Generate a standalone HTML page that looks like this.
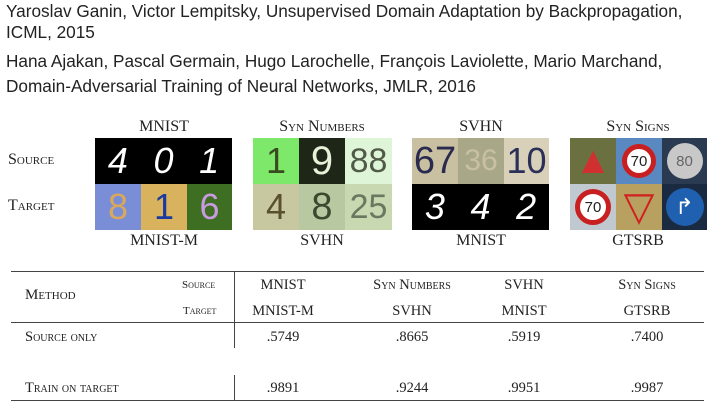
<!DOCTYPE html>
<html><head><style>
body{margin:0;width:713px;height:412px;background:#fff;position:relative;overflow:hidden;font-family:"Liberation Serif",serif;color:#222}
.a{position:absolute;white-space:nowrap}
.t{font-family:"Liberation Sans",sans-serif;font-size:17.2px;color:#222;left:6px}
.c{transform:translateX(-50%)}
.sc{font-variant:small-caps}
.b{position:absolute;overflow:hidden;display:flex;align-items:center;justify-content:center;font-family:"Liberation Sans",sans-serif}
.h{font-size:16px}
.n{font-size:14.5px}
</style></head><body>
<div class="a t" style="top:1px">Yaroslav Ganin, Victor Lempitsky, Unsupervised Domain Adaptation by Backpropagation,</div>
<div class="a t" style="top:22px">ICML, 2015</div>
<div class="a t" style="top:51px">Hana Ajakan, Pascal Germain, Hugo Larochelle, François Laviolette, Mario Marchand,</div>
<div class="a t" style="top:76px">Domain-Adversarial Training of Neural Networks, JMLR, 2016</div>

<div class="a c h" style="left:164px;top:118px">MNIST</div>
<div class="a c h sc" style="left:322px;top:118px">Syn Numbers</div>
<div class="a c h" style="left:481px;top:118px">SVHN</div>
<div class="a c h sc" style="left:638px;top:118px">Syn Signs</div>
<div class="a h sc" style="left:8px;top:151px">Source</div>
<div class="a h sc" style="left:8px;top:197px">Target</div>
<div class="a c h" style="left:164px;top:232px">MNIST-M</div>
<div class="a c h" style="left:322px;top:232px">SVHN</div>
<div class="a c h" style="left:481px;top:232px">MNIST</div>
<div class="a c h" style="left:638px;top:232px">GTSRB</div>

<div class="b" style="left:95px;top:138px;width:137px;height:46px;background:#000;color:#fff;font-size:36px;justify-content:space-around;font-style:italic">4<span>0</span><span>1</span></div>
<div class="b" style="left:95px;top:184px;width:46px;height:46px;background:#7a8ed8;color:#d9a85a;font-size:36px">8</div>
<div class="b" style="left:141px;top:184px;width:46px;height:46px;background:#d9b25e;color:#1a3aa0;font-size:36px">1</div>
<div class="b" style="left:187px;top:184px;width:45px;height:46px;background:#3d6e22;color:#c89ae0;font-size:36px">6</div>
<div class="b" style="left:253px;top:138px;width:46px;height:46px;background:#7ee86a;color:#3a4a20;font-size:36px">1</div>
<div class="b" style="left:299px;top:138px;width:46px;height:46px;background:#1e2618;color:#e8f0d8;font-size:40px">9</div>
<div class="b" style="left:345px;top:138px;width:47px;height:46px;background:#dff5d8;color:#505a48;font-size:34px">88</div>
<div class="b" style="left:253px;top:184px;width:46px;height:46px;background:#c8c8a0;color:#5a5030;font-size:36px">4</div>
<div class="b" style="left:299px;top:184px;width:46px;height:46px;background:#b8c8a0;color:#3a4a30;font-size:38px">8</div>
<div class="b" style="left:345px;top:184px;width:47px;height:46px;background:#c8d8b0;color:#6a7860;font-size:34px">25</div>
<div class="b" style="left:412px;top:138px;width:46px;height:46px;background:#c8c0a0;color:#2a2a50;font-size:38px">67</div>
<div class="b" style="left:458px;top:138px;width:46px;height:46px;background:#a8a888;color:#c8c0a0;font-size:30px">36</div>
<div class="b" style="left:504px;top:138px;width:45px;height:46px;background:#d8d0b8;color:#2a3058;font-size:36px">10</div>
<div class="b" style="left:412px;top:184px;width:137px;height:46px;background:#000;color:#fff;font-size:36px;justify-content:space-around;font-style:italic">3<span>4</span><span>2</span></div>
<div class="b" style="left:570px;top:138px;width:46px;height:46px;background:#6a7040;color:#d03030;font-size:38px">▲</div>
<div class="b" style="left:616px;top:138px;width:46px;height:46px;background:#5a88c0"><div style="width:34px;height:34px;border-radius:50%;border:5px solid #c82020;background:#fff;box-sizing:border-box;font-size:15px;display:flex;align-items:center;justify-content:center">70</div></div>
<div class="b" style="left:662px;top:138px;width:45px;height:46px;background:#2a3a50"><div style="width:36px;height:36px;border-radius:50%;background:#c8c8c8;color:#666;font-size:15px;display:flex;align-items:center;justify-content:center">80</div></div>
<div class="b" style="left:570px;top:184px;width:46px;height:46px;background:#c0c8d0"><div style="width:36px;height:36px;border-radius:50%;border:5px solid #c82020;background:#fff;box-sizing:border-box;font-size:15px;display:flex;align-items:center;justify-content:center">70</div></div>
<div class="b" style="left:616px;top:184px;width:46px;height:46px;background:#b8a060;color:#d02020;font-size:40px">▽</div>
<div class="b" style="left:662px;top:184px;width:45px;height:46px;background:#1a2a40"><div style="width:38px;height:38px;border-radius:50%;background:#2060b0;color:#fff;font-size:22px;display:flex;align-items:center;justify-content:center">↱</div></div>

<div class="a" style="left:11px;top:271px;width:693px;height:1px;background:#444"></div>
<div class="a" style="left:11px;top:322px;width:693px;height:1px;background:#444"></div>
<div class="a" style="left:11px;top:400px;width:693px;height:1px;background:#444"></div>
<div class="a" style="left:234px;top:272px;width:1px;height:76px;background:#444"></div>
<div class="a" style="left:234px;top:375px;width:1px;height:25px;background:#444"></div>
<div class="a sc" style="left:25px;top:287px;font-size:15px">Method</div>
<div class="a sc" style="left:182px;top:279px;font-size:11px">Source</div>
<div class="a sc" style="left:183px;top:305px;font-size:11px">Target</div>
<div class="a c n" style="left:283px;top:277px">MNIST</div>
<div class="a c n sc" style="left:412px;top:277px">Syn Numbers</div>
<div class="a c n" style="left:524px;top:277px">SVHN</div>
<div class="a c n sc" style="left:647px;top:277px">Syn Signs</div>
<div class="a c n" style="left:283px;top:303px">MNIST-M</div>
<div class="a c n" style="left:412px;top:303px">SVHN</div>
<div class="a c n" style="left:524px;top:303px">MNIST</div>
<div class="a c n" style="left:647px;top:303px">GTSRB</div>
<div class="a sc n" style="left:25px;top:329px">Source only</div>
<div class="a c n" style="left:283px;top:329px">.5749</div>
<div class="a c n" style="left:412px;top:329px">.8665</div>
<div class="a c n" style="left:524px;top:329px">.5919</div>
<div class="a c n" style="left:647px;top:329px">.7400</div>
<div class="a sc n" style="left:25px;top:380px">Train on target</div>
<div class="a c n" style="left:283px;top:380px">.9891</div>
<div class="a c n" style="left:412px;top:380px">.9244</div>
<div class="a c n" style="left:524px;top:380px">.9951</div>
<div class="a c n" style="left:647px;top:380px">.9987</div>
</body></html>
